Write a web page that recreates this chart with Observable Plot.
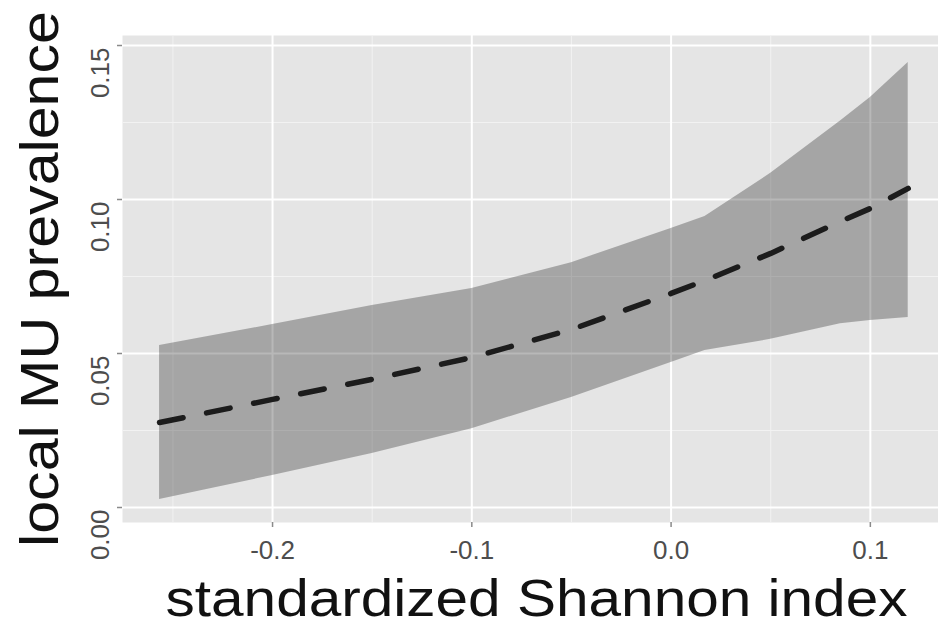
<!DOCTYPE html>
<html><head><meta charset="utf-8">
<script src="https://cdn.jsdelivr.net/npm/d3@7"></script>
<script src="https://cdn.jsdelivr.net/npm/@observablehq/plot@0.6"></script>
<style>body{margin:0;background:#fff;} svg{display:block}</style>
</head><body><div id="chart"></div>
<script>
// standardized Shannon index (x) and model prediction with confidence band
const shannon   = [-0.2567, -0.2, -0.15, -0.1, -0.05, 0.0, 0.017, 0.05, 0.085, 0.1, 0.119];
const fitPrev   = [0.0276, 0.0351, 0.0416, 0.0487, 0.0578, 0.0695, 0.0737, 0.0825, 0.0929, 0.0971, 0.1036];
const lowerPrev = [0.0026, 0.0104, 0.0175, 0.0256, 0.0357, 0.0471, 0.0510, 0.0546, 0.0597, 0.0607, 0.0617];
const upperPrev = [0.0526, 0.0594, 0.0656, 0.0711, 0.0795, 0.0906, 0.0945, 0.1085, 0.1255, 0.1331, 0.1445];

const xMajor = [-0.2, -0.1, 0.0, 0.1];
const xMinor = [-0.25, -0.15, -0.05, 0.05];
const yMajor = [0.00, 0.05, 0.10, 0.15];
const yMinor = [0.025, 0.075, 0.125];
const xTitle = "standardized Shannon index";
const yTitle = "local MU prevalence";

const data = shannon.map((x, i) => ({x, fit: fitPrev[i], lo: lowerPrev[i], hi: upperPrev[i]}));

const chart = Plot.plot({
  width: 938, height: 625,
  marginLeft: 122, marginRight: 0, marginTop: 35, marginBottom: 103,
  style: {fontFamily: "'Liberation Sans', Arial, Helvetica, sans-serif", background: "#fff"},
  x: {domain: [-0.2753, 0.1342]},
  y: {domain: [-0.00487, 0.15325]},
  marks: [
    Plot.frame({fill: "#E5E5E5", stroke: "none"}),
    Plot.ruleX(xMinor, {stroke: "#F2F2F2", strokeWidth: 1}),
    Plot.ruleY(yMinor, {stroke: "#F2F2F2", strokeWidth: 1}),
    Plot.ruleX(xMajor, {stroke: "#FFFFFF", strokeWidth: 2}),
    Plot.ruleY(yMajor, {stroke: "#FFFFFF", strokeWidth: 2}),
    Plot.areaY(data, {x: "x", y1: "lo", y2: "hi", fill: "black", fillOpacity: 0.28}),
    Plot.line(data, {x: "x", y: "fit", stroke: "#1c1c1c", strokeWidth: 5.5, strokeDasharray: "24 24"}),
    Plot.axisX(xMajor, {tickSize: 5, stroke: "#8a8a8a", strokeWidth: 1.5, fill: "none", tickFormat: () => "", label: null}),
    Plot.axisY(yMajor, {tickSize: 5, stroke: "#8a8a8a", strokeWidth: 1.5, fill: "none", tickFormat: () => "", label: null}),
    Plot.text(xMajor, {x: d => d, text: d => d.toFixed(1), frameAnchor: "bottom", dy: 18, lineAnchor: "top", fontSize: 26, fill: "#4d4d4d"}),
    Plot.text(yMajor, {y: d => d, text: d => d.toFixed(2), frameAnchor: "left", dx: -32, dy: 2, rotate: -90, textAnchor: "end", lineAnchor: "top", fontSize: 26, fill: "#4d4d4d"}),
    Plot.text([xTitle], {text: d => d, frameAnchor: "bottom", dx: 6, dy: 93, textAnchor: "middle", lineAnchor: "bottom", fontSize: 52, fill: "#111"}),
    Plot.text([yTitle], {text: d => d, frameAnchor: "left", dx: -65, rotate: -90, textAnchor: "middle", lineAnchor: "bottom", fontSize: 54, fill: "#111"})
  ]
});
document.getElementById("chart").append(chart);
d3.select(chart).selectAll("text").each(function () {
  const t = this.textContent;
  if (t === xTitle) d3.select(this).attr("textLength", 742).attr("lengthAdjust", "spacingAndGlyphs");
  if (t === yTitle) d3.select(this).attr("textLength", 536).attr("lengthAdjust", "spacingAndGlyphs");
});
</script>
</body></html>
